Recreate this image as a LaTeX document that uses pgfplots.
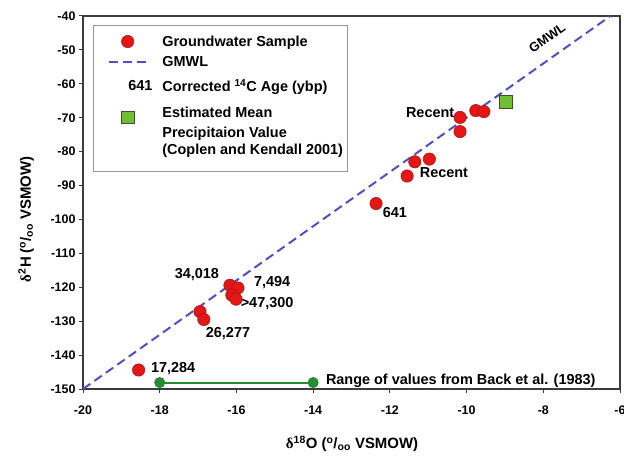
\documentclass[border=0pt]{standalone}
\usepackage{pgfplots}
\pgfplotsset{compat=1.18}
\usepackage{fontspec}
\setmainfont{Liberation Sans}
\newfontfamily\grkfont{Liberation Serif}
\definecolor{ptred}{RGB}{228,22,22}
\definecolor{ptredd}{RGB}{160,20,20}
\definecolor{gmwl}{RGB}{80,80,190}
\definecolor{sqgreen}{RGB}{112,190,52}
\definecolor{sqedge}{RGB}{60,80,40}
\definecolor{rgreen}{RGB}{40,140,50}
\definecolor{framec}{RGB}{60,60,60}
\definecolor{legframe}{RGB}{150,150,150}
\newcommand{\lbl}{\bfseries\fontsize{14.5}{16}\selectfont}
\begin{document}
\begin{tikzpicture}
\useasboundingbox (-83bp,-68bp) rectangle (541bp,389bp);
\begin{axis}[
  scale only axis, width=537bp, height=373bp,
  xmin=-20, xmax=-6, ymin=-150, ymax=-40,
  xtick={-20,-18,...,-6}, ytick={-150,-140,...,-40},
  tick align=outside, tick pos=left, major tick length=4bp,
  axis line style={framec, line width=1.3pt},
  every tick/.style={framec, line width=1pt},
  /pgf/number format/assume math mode=true,
  ticklabel style={font=\bfseries\fontsize{12.5}{14}\selectfont},
  xticklabel style={yshift=-9bp},
  xlabel={{\grkfont δ}\textsuperscript{18}O (\textsuperscript{o}/\textsubscript{oo} VSMOW)},
  ylabel={{\grkfont δ}\textsuperscript{2}H (\textsuperscript{o}/\textsubscript{oo} VSMOW)},
  label style={font=\bfseries\fontsize{15}{18}\selectfont},
  xlabel style={at={(axis description cs:0.501,-0.147)}, anchor=center},
  ylabel style={at={(axis description cs:-0.106,0.455)}, anchor=center},
  legend style={at={(axis description cs:0.0186,0.976)}, anchor=north west,
    draw=legframe, line width=1.2pt, font=\lbl, inner xsep=2.5bp, inner ysep=8bp,
    row sep=1bp, column sep=8bp,
    nodes={inner ysep=2bp}},
  legend cell align=left,
]
% groundwater samples
\addplot[forget plot, only marks, mark=*, mark size=6.2bp,
  mark options={draw=ptredd, fill=ptred, line width=0.5pt}] coordinates {
(-18.55,-144.4)
(-16.95,-127.2)
(-16.85,-129.5)
(-16.17,-119.4)
(-15.96,-120.2)
(-16.12,-122.3)
(-16.01,-123.5)
(-12.36,-95.3)
(-11.55,-87.2)
(-11.35,-83.0)
(-10.97,-82.2)
(-10.17,-74.1)
(-10.17,-69.9)
(-9.76,-67.9)
(-9.55,-68.2)
};
% GMWL
\addplot[forget plot, gmwl, line width=2pt, dash pattern=on 9bp off 5bp] coordinates {(-20,-150) (-6.25,-40)};
% mean precipitation
\addplot[forget plot, only marks, mark=square*, mark size=6.3bp,
  mark options={fill=sqgreen, draw=sqedge, line width=0.8pt}] coordinates {(-8.97,-65.3)};
% range of values
\addplot[forget plot, rgreen, line width=2pt, mark=*, mark size=4.5bp,
  mark options={fill=rgreen, draw=rgreen}] coordinates {(-18,-148.1) (-14,-148.1)};

% legend
\addlegendimage{legend image code/.code={
  \path (-12bp,0bp) (0bp,-11.5bp);
  \path plot[mark=*, mark size=6.2bp, mark options={draw=ptredd,fill=ptred,line width=0.5pt}] coordinates {(19bp,0bp)};}}
\addlegendentry{Groundwater Sample}
\addlegendimage{legend image code/.code={
  \path (0bp,-13.5bp);
  \draw[gmwl, line width=2pt, dash pattern=on 9bp off 5bp] (0bp,0bp) -- (38bp,0bp);}}
\addlegendentry{GMWL}
\addlegendimage{legend image code/.code={
  \path (0bp,-17.5bp);
  \node[font=\lbl, inner sep=0pt] at (19bp,0bp) {641};}}
\addlegendentry{Corrected \textsuperscript{14}C Age (ybp)}
\addlegendimage{legend image code/.code={
  \path plot[mark=square*, mark size=6.3bp, mark options={fill=sqgreen, draw=sqedge, line width=0.8pt}] coordinates {(19bp,-4bp)};}}
\addlegendentry{Estimated Mean}
\addlegendimage{empty legend}
\addlegendentry{Precipitaion Value}
\addlegendimage{legend image code/.code={\path (0bp,-13bp);}}
\addlegendentry{(Coplen and Kendall 2001)}

% labels
\node[font=\lbl] at (axis cs:-17.03,-116.4) {34,018};
\node[font=\lbl] at (axis cs:-15.07,-118.5) {7,494};
\node[font=\lbl] at (axis cs:-15.20,-124.7) {>47,300};
\node[font=\lbl] at (axis cs:-16.22,-133.8) {26,277};
\node[font=\lbl] at (axis cs:-17.65,-144.1) {17,284};
\node[font=\lbl] at (axis cs:-11.87,-98.1) {641};
\node[font=\lbl] at (axis cs:-10.95,-68.4) {Recent};
\node[font=\lbl] at (axis cs:-10.59,-86.2) {Recent};
\node[font=\lbl, anchor=west, inner sep=0pt] at (axis cs:-13.67,-147.7) {Range of values from Back et al. (1983)};
\node[font=\bfseries\fontsize{13}{15}\selectfont, rotate=35.3] at (axis cs:-7.90,-46.5) {GMWL};
\end{axis}
\end{tikzpicture}
\end{document}
